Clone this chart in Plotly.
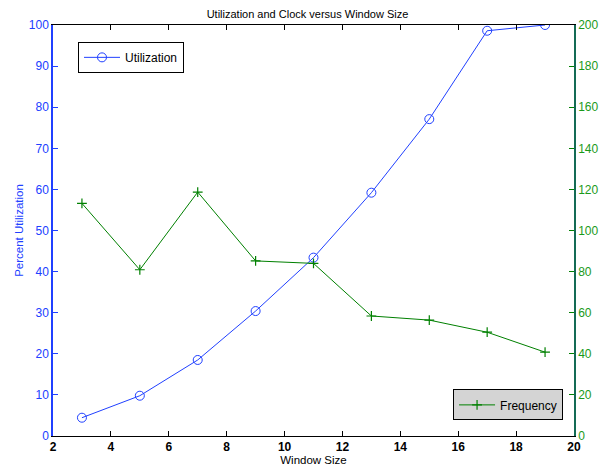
import plotly.graph_objects as go

window_size = [3, 5, 7, 9, 11, 13, 15, 17, 19]
utilization = [4.45, 9.8, 18.5, 30.4, 43.4, 59.2, 77.1, 98.6, 100.0]
frequency = [113.2, 80.9, 118.7, 85.2, 84.0, 58.4, 56.4, 50.5, 40.8]

BLUE = "#2040ff"
GREEN = "#1a9a1a"
LINE_GREEN = "#008000"
FONT = "Liberation Sans, Arial, Helvetica, sans-serif"

fig = go.Figure()
fig.add_trace(go.Scatter(
    x=window_size, y=utilization, name="Utilization", mode="lines+markers",
    line=dict(color=BLUE, width=1),
    marker=dict(symbol="circle-open", size=9, color=BLUE, line=dict(width=1)),
    legend="legend", yaxis="y"))
fig.add_trace(go.Scatter(
    x=window_size, y=frequency, name="Frequency", mode="lines+markers",
    line=dict(color=LINE_GREEN, width=1),
    marker=dict(symbol="cross-thin-open", size=7, color=LINE_GREEN, line=dict(width=1.2, color=LINE_GREEN)),
    legend="legend2", yaxis="y2"))

fig.update_layout(
    width=599, height=463,
    margin=dict(l=45, r=33, t=17, b=35),
    paper_bgcolor="white", plot_bgcolor="white",
    font=dict(family=FONT, size=12, color="black"),
    title=dict(text="Utilization and Clock versus Window Size", x=0.5, xanchor="center",
               y=0.995, yanchor="top", pad=dict(t=0, b=0), font=dict(size=11, color="black")),
    xaxis=dict(range=[2, 20], tickvals=[2, 4, 6, 8, 10, 12, 14, 16, 18, 20],
               ticks="inside", ticklen=5, tickcolor="black", showline=True, linecolor="black",
               linewidth=1, mirror="ticks", showgrid=False, zeroline=False, automargin=False,
               tickfont=dict(size=12, color="black", weight="bold"),
               title=dict(text="Window Size", font=dict(size=11.5), standoff=2)),
    yaxis=dict(range=[0, 100], tickvals=list(range(0, 101, 10)), ticks="inside", ticklen=5,
               tickcolor=BLUE, showline=True, linecolor=BLUE, linewidth=1.5, showgrid=False,
               zeroline=False, automargin=False, tickfont=dict(size=12, color=BLUE),
               title=dict(text="Percent Utilization", font=dict(size=11.5, color=BLUE), standoff=3)),
    yaxis2=dict(range=[0, 200], tickvals=list(range(0, 201, 20)), ticks="inside", ticklen=5,
                tickcolor=LINE_GREEN, showline=True, linecolor="#146b55", linewidth=1.5,
                showgrid=False, zeroline=False, overlaying="y", side="right", automargin=False,
                tickfont=dict(size=12, color=GREEN)),
    legend=dict(x=0.048, y=0.959, xanchor="left", yanchor="top", bgcolor="white",
                bordercolor="black", borderwidth=1, font=dict(size=12, color="black"),
                itemwidth=36, tracegroupgap=0),
    legend2=dict(x=0.979, y=0.038, xanchor="right", yanchor="bottom", bgcolor="#d4d4d4",
                 bordercolor="black", borderwidth=1, font=dict(size=12, color="black"),
                 itemwidth=36, tracegroupgap=0),
    showlegend=True,
)

fig.add_annotation(text="Clock Frequency (MHz)", xref="paper", yref="paper", x=1, y=0.5,
                   xanchor="left", yanchor="middle", xshift=25, textangle=-90, showarrow=False,
                   font=dict(size=11.5, color=GREEN))

fig.write_html("out.html")
